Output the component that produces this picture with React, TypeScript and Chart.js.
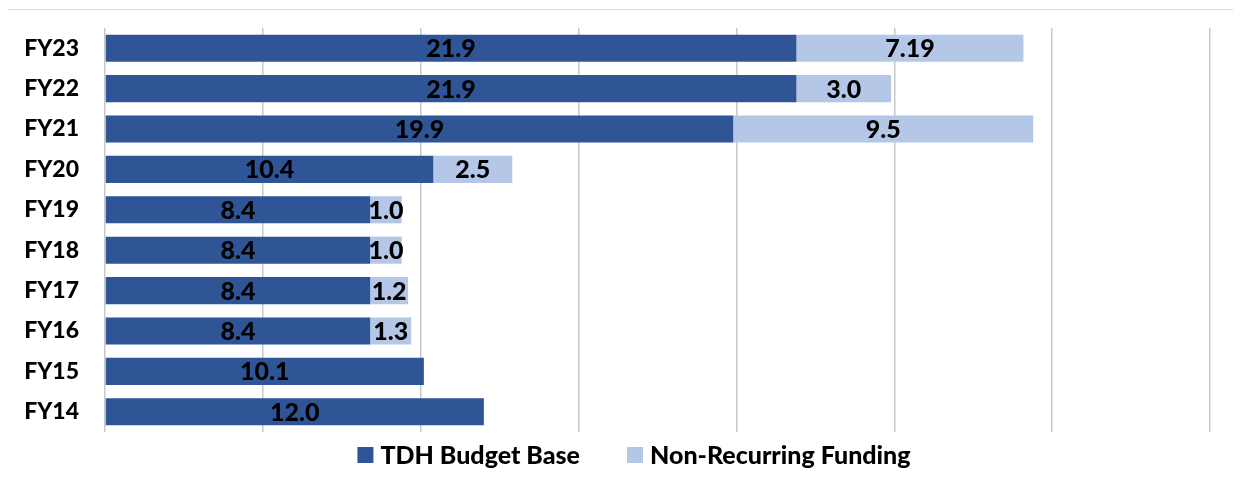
import React, { useEffect, useRef } from "react";
import { Chart, registerables } from "chart.js";

Chart.register(...registerables);

const categories = ["FY23", "FY22", "FY21", "FY20", "FY19", "FY18", "FY17", "FY16", "FY15", "FY14"];
const budgetBase = [21.9, 21.9, 19.9, 10.4, 8.4, 8.4, 8.4, 8.4, 10.1, 12.0];
const nonRecurring: (number | null)[] = [7.19, 3.0, 9.5, 2.5, 1.0, 1.0, 1.2, 1.3, null, null];
const xTicks = [0, 5, 10, 15, 20, 25, 30, 35];
const seriesNames = ["TDH Budget Base", "Non-Recurring Funding"];
const seriesColors = ["#2F5597", "#B4C7E7"];

const FONT = "Lato, 'Open Sans', sans-serif";

function fmt(v: number): string {
  const t = v * 10;
  return Math.abs(Math.round(t) - t) < 1e-9 ? v.toFixed(1) : String(v);
}

const barLabels = {
  id: "barLabels",
  afterDatasetsDraw(chart: any) {
    const ctx = chart.ctx;
    ctx.save();
    ctx.font = `900 25px ${FONT}`;
    ctx.fillStyle = "#000000";
    ctx.textAlign = "center";
    ctx.textBaseline = "middle";
    chart.data.datasets.forEach((ds: any, di: number) => {
      const meta = chart.getDatasetMeta(di);
      meta.data.forEach((el: any, i: number) => {
        const v = ds.data[i];
        if (v === null || v === undefined) return;
        const p = el.getProps(["x", "y", "base"], true);
        ctx.fillText(fmt(v), (p.x + p.base) / 2, p.y + 1);
      });
    });
    ctx.restore();
  },
};

const bottomLegend = {
  id: "bottomLegend",
  afterDraw(chart: any) {
    const ctx = chart.ctx;
    ctx.save();
    ctx.font = `900 25px ${FONT}`;
    ctx.textBaseline = "middle";
    ctx.textAlign = "left";
    const box = 16;
    const gapText = 7;
    const gapItems = 47;
    const datasets = chart.data.datasets;
    const widths = datasets.map((ds: any) => box + gapText + ctx.measureText(ds.label).width);
    const total = widths.reduce((a: number, b: number) => a + b, 0) + gapItems * (datasets.length - 1);
    let x = 626 - total / 2;
    const cy = 445;
    datasets.forEach((ds: any, i: number) => {
      ctx.fillStyle = ds.backgroundColor;
      ctx.fillRect(x, cy - box / 2, box, box);
      ctx.fillStyle = "#000000";
      ctx.fillText(ds.label, x + box + gapText, cy + 1);
      x += widths[i] + gapItems;
    });
    ctx.restore();
  },
};

export default function App() {
  const ref = useRef<HTMLCanvasElement | null>(null);
  useEffect(() => {
    if (!ref.current) return;
    const chart = new Chart(ref.current, {
      type: "bar",
      data: {
        labels: categories,
        datasets: [
          {
            label: seriesNames[0],
            data: budgetBase,
            backgroundColor: seriesColors[0],
            borderWidth: 0,
            categoryPercentage: 1,
            barPercentage: 0.67,
          },
          {
            label: seriesNames[1],
            data: nonRecurring,
            backgroundColor: seriesColors[1],
            borderWidth: 0,
            categoryPercentage: 1,
            barPercentage: 0.67,
          },
        ],
      },
      options: {
        indexAxis: "y",
        animation: false,
        responsive: false,
        maintainAspectRatio: false,
        layout: { padding: { top: 18, right: 31, bottom: 59, left: 0 } },
        scales: {
          x: {
            stacked: true,
            min: 0,
            max: 35,
            afterBuildTicks: (scale: any) => {
              scale.ticks = xTicks.map((v) => ({ value: v }));
            },
            afterFit: (scale: any) => {
              scale.height = 0;
              scale.paddingLeft = 0;
              scale.paddingRight = 0;
            },
            ticks: { display: false },
            grid: { color: "#c8c8c8", lineWidth: 1.5, drawTicks: false },
            border: { display: false },
          },
          y: {
            stacked: true,
            afterFit: (scale: any) => {
              scale.width = 97;
              scale.paddingTop = 0;
              scale.paddingBottom = 0;
            },
            ticks: {
              color: "#000000",
              padding: 26,
              font: { family: FONT, size: 23, weight: 900 },
            },
            grid: { display: false, drawTicks: false },
            border: { display: false },
          },
        },
        plugins: {
          legend: { display: false },
          tooltip: { enabled: false },
        },
      },
      plugins: [barLabels, bottomLegend],
    });
    return () => chart.destroy();
  }, []);
  return (
    <div
      style={{
        marginLeft: -1,
        marginTop: 1,
        width: 1234,
        height: 482,
        borderTop: "1px solid #d9d9d9",
        borderLeft: "1px solid #d9d9d9",
      }}
    >
      <canvas ref={ref} width={1233} height={481} style={{ display: "block" }} />
    </div>
  );
}
